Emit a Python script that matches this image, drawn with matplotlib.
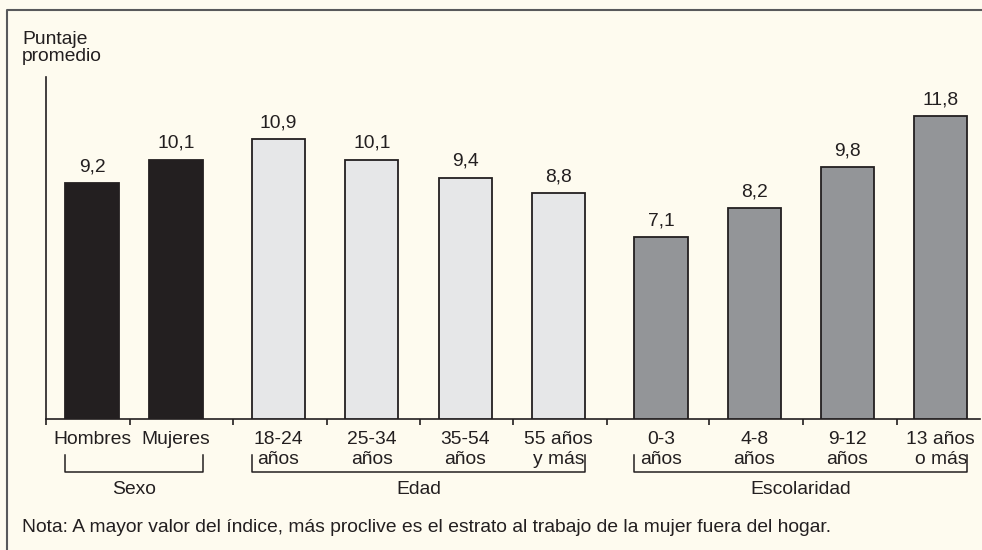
import matplotlib.pyplot as plt
from matplotlib import transforms
from matplotlib.lines import Line2D

plt.rcParams['font.family'] = ['Liberation Sans', 'DejaVu Sans']

# data
labels = ["Hombres", "Mujeres", "18-24\naños", "25-34\naños", "35-54\naños", "55 años\ny más",
          "0-3\naños", "4-8\naños", "9-12\naños", "13 años\no más"]
values = [9.2, 10.1, 10.9, 10.1, 9.4, 8.8, 7.1, 8.2, 9.8, 11.8]
value_text = ["9,2", "10,1", "10,9", "10,1", "9,4", "8,8", "7,1", "8,2", "9,8", "11,8"]
groups = ["Sexo", "Edad", "Escolaridad"]
group_members = [[0, 1], [2, 3, 4, 5], [6, 7, 8, 9]]
group_colors = ["#231f20", "#e6e7e8", "#939598"]
nota = "Nota: A mayor valor del índice, más proclive es el estrato al trabajo de la mujer fuera del hogar."

# layout
pos = [0, 0.9, 2.0, 3.0, 4.0, 5.0, 6.1, 7.1, 8.1, 9.1]
ticks = [-0.493, 0.41, 1.51, 2.52, 3.52, 4.51, 5.52, 6.62, 7.62, 8.63]
width = 0.57
txt = "#231f20"
bg = "#fefbef"
fs = 13.9

W, H = 982, 550
fig = plt.figure(figsize=(W / 100, H / 100), dpi=100, facecolor=bg)
ax = fig.add_axes([46 / W, 1 - 419 / H, (980 - 46) / W, (419 - 77) / H])
ax.set_facecolor(bg)

colors = []
for gi, members in enumerate(group_members):
    for m in members:
        colors.append(group_colors[gi])

ax.bar(pos, values, width=width, color=colors, edgecolor=txt, linewidth=1.3, zorder=3)
for x, v, t in zip(pos, values, value_text):
    ax.text(x, v + 0.3, t, ha="center", va="bottom", fontsize=fs, color=txt)

ax.set_xlim(-0.493, 9.52)
ax.set_ylim(0, 13.32)
ax.spines["top"].set_visible(False)
ax.spines["right"].set_visible(False)
ax.spines["left"].set_color(txt)
ax.spines["bottom"].set_color(txt)
ax.spines["left"].set_linewidth(1.2)
ax.spines["bottom"].set_linewidth(1.2)
ax.set_yticks([])
ax.set_xticks(ticks)
ax.set_xticklabels([])
ax.tick_params(axis="x", direction="out", length=4, width=1.2, color=txt)

# category labels and group brackets, x in data, y in figure pixels
tr = transforms.blended_transform_factory(ax.transData, fig.transFigure)


def fy(py):
    return 1 - py / H


for x, lab in zip(pos, labels):
    fig.text(x, fy(431), lab, transform=tr, ha="center", va="top",
             fontsize=fs, color=txt, linespacing=1.2)

for gi, members in enumerate(group_members):
    x0 = pos[members[0]] - width / 2
    x1 = pos[members[-1]] + width / 2
    fig.add_artist(Line2D([x0, x0, x1, x1], [fy(455), fy(472), fy(472), fy(455)],
                          transform=tr, color=txt, linewidth=1.1))
    xc = (pos[members[0]] + pos[members[-1]]) / 2
    fig.text(xc, fy(490), groups[gi], transform=tr, ha="center", va="center",
             fontsize=fs, color=txt)

fig.text(22 / W, fy(31), "Puntaje\npromedio", ha="left", va="top", fontsize=fs,
         color=txt, linespacing=1.02)
fig.text(22 / W, fy(527), nota, ha="left", va="center", fontsize=fs, color=txt)

# frame: top and left lines
fig.add_artist(Line2D([7 / W, 7 / W, 1], [0, fy(10), fy(10)], transform=fig.transFigure,
                      color="#58595b", linewidth=1.5))

fig.savefig("out.png", dpi=100, facecolor=bg)
